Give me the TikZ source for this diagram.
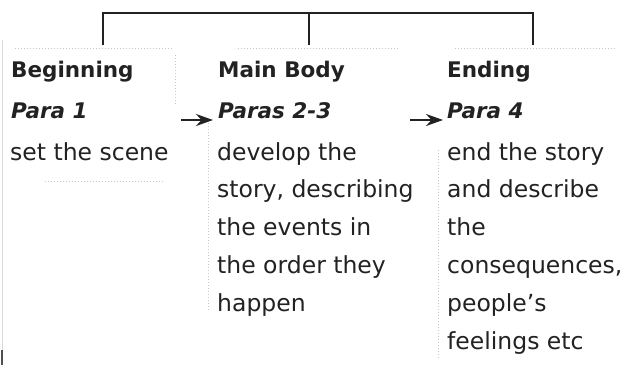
\documentclass[tikz,border=0pt]{standalone}
\usepackage{fontspec}
\setmainfont{DejaVu Sans}
\usetikzlibrary{arrows.meta}
\definecolor{ink}{HTML}{222222}
\definecolor{faint}{HTML}{C8C8C8}
\begin{document}
\begin{tikzpicture}[x=1pt,y=-1pt,
  head/.style={anchor=base west, inner sep=0pt, text=ink, font=\fontsize{21.5}{26}\selectfont\bfseries},
  para/.style={anchor=base west, inner sep=0pt, text=ink, font=\fontsize{21.5}{26}\selectfont\bfseries\itshape},
  body/.style={anchor=base west, inner sep=0pt, text=ink, font=\fontsize{23.5}{37.8}\selectfont},
  bracket/.style={draw=ink, line width=2.6pt},
  flow/.style={draw=ink, line width=2.4pt, -{Stealth[length=17pt,width=12pt]}},
  ghost/.style={draw=faint, line width=1pt, dotted}
]
\useasboundingbox[fill=white] (0,0) rectangle (623,365);

% faint dotted outlines of the scanned boxes
\draw[ghost] (15,48) -- (172,48);
\draw[ghost] (238,48) -- (398,48);
\draw[ghost] (455,48) -- (615,48);
\draw[ghost] (175,55) -- (175,105);
\draw[ghost] (208,120) -- (208,312);
\draw[ghost] (438,150) -- (438,360);
\draw[ghost] (45,181) -- (165,181);
\draw[draw=faint!70, line width=1pt] (2,40) -- (2,350);
\draw[draw=ink!80, line width=2.5pt] (2,350) -- (2,365);

% bracket
\coordinate (bl) at (103,45);
\coordinate (bm) at (309,45);
\coordinate (br) at (533,45);
\draw[bracket] (bl) -- (103,13) -- (533,13) -- (br);
\draw[bracket] (309,13) -- (bm);

% column 1
\node[head] (h1) at (11,77) {Beginning};
\node[para] (p1) at (11,118) {Para 1};
\node[body] (t1) at (10,160) {\parbox[t]{190pt}{\raggedright set the scene}};

% column 2
\node[head] (h2) at (218,77) {Main Body};
\node[para] (p2) at (218,118) {Paras 2-3};
\node[body] (t2) at (217,160) {\parbox[t]{200pt}{\raggedright develop the\\story, describing\\the events in\\the order they\\happen}};

% column 3
\node[head] (h3) at (447,77) {Ending};
\node[para] (p3) at (447,118) {Para 4};
\node[body] (t3) at (447,160) {\parbox[t]{180pt}{\raggedright end the story\\and describe\\the\\consequences,\\people’s\\feelings etc}};

% arrows
\coordinate (a1) at (181,120);
\coordinate (e1) at (213,120);
\coordinate (a2) at (410,120);
\coordinate (e2) at (443,120);
\draw[flow] (a1) -- (e1);
\draw[flow] (a2) -- (e2);
\end{tikzpicture}
\end{document}
